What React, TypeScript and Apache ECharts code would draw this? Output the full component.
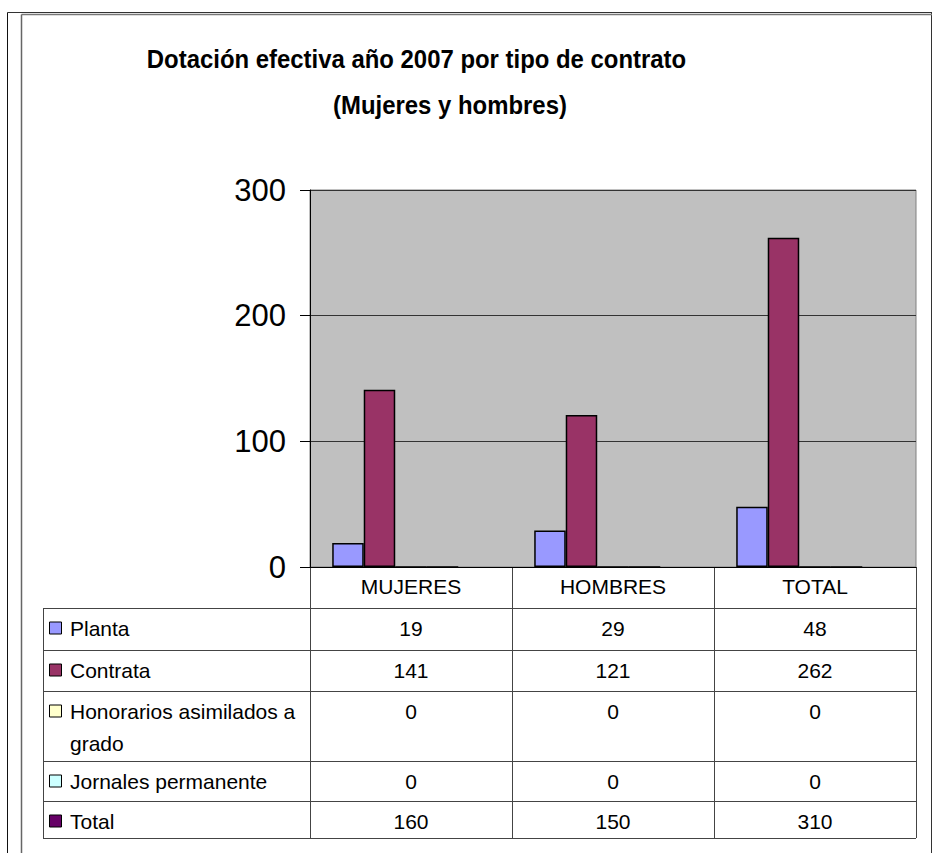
import React, { useEffect, useRef } from "react";
import * as echarts from "echarts";

const categories = ["MUJERES", "HOMBRES", "TOTAL"];
const seriesNames = ["Planta", "Contrata", "Honorarios asimilados a grado", "Jornales permanente", "Total"];
const planta = [19, 29, 48];
const contrata = [141, 121, 262];
const honorarios = [0, 0, 0];
const jornales = [0, 0, 0];
const total = [160, 150, 310];
const seriesValues = [planta, contrata, honorarios, jornales, total];
const seriesColors = ["#9999FF", "#993366", "#FFFFCC", "#CCFFFF", "#660066"];
const titleLines = ["Dotación efectiva año 2007 por tipo de contrato", "(Mujeres y hombres)"];

const W = 934;
const H = 853;
const GL = 310;
const GR = 916;
const GT = 190;
const GB = 567;
const TL = 43;
const rowLines = [608, 650, 691, 761, 801, 838];
const FONT = "'Liberation Sans', Arial, sans-serif";
const LH = 32;

export default function App() {
  const ref = useRef<HTMLDivElement>(null);
  useEffect(() => {
    if (!ref.current) return;
    const chart = echarts.init(ref.current, null, { renderer: "svg" });
    const colW = (GR - GL) / categories.length;
    const graphics: any[] = [];
    const frame = (x1: number, y1: number, x2: number, y2: number, c: string, w: number) =>
      graphics.push({ type: "line", shape: { x1, y1, x2, y2 }, style: { stroke: c, lineWidth: w }, silent: true });
    // outer frame
    frame(7.5, 12.5, 932, 12.5, "#333", 1);
    frame(7.5, 12.5, 7.5, H, "#111", 1);
    frame(931.5, 12.5, 931.5, H, "#333", 1);
    frame(21.5, 14.5, 932, 14.5, "#777", 1.5);
    frame(21.5, 14.5, 21.5, H, "#666", 1.5);
    // titles
    graphics.push({
      type: "text", x: 416.5, y: 59, scaleX: 0.92,
      style: { text: titleLines[0], font: "bold 26px " + FONT, fill: "#000", align: "center", verticalAlign: "middle" },
    });
    graphics.push({
      type: "text", x: 450, y: 105, scaleX: 0.92,
      style: { text: titleLines[1], font: "bold 26px " + FONT, fill: "#000", align: "center", verticalAlign: "middle" },
    });
    // table lines
    const lineC = "#444";
    for (let i = 0; i < rowLines.length; i++) {
      frame(TL, rowLines[i] + 0.5, GR, rowLines[i] + 0.5, lineC, 1);
    }
    frame(TL + 0.5, rowLines[0], TL + 0.5, rowLines[rowLines.length - 1], lineC, 1);
    for (let c = 0; c <= categories.length; c++) {
      const x = Math.round(GL + c * colW) + 0.5;
      frame(x, GB, x, rowLines[rowLines.length - 1], lineC, 1);
    }
    // rows
    seriesNames.forEach((name, r) => {
      const top = rowLines[r];
      const ty = top + 20;
      graphics.push({
        type: "rect", shape: { x: 49.5, y: ty - 6, width: 12, height: 12 },
        style: { fill: seriesColors[r], stroke: "#000", lineWidth: 1 }, silent: true,
      });
      graphics.push({
        type: "text", x: 70, y: ty - LH / 2,
        style: {
          text: name, font: "21px " + FONT, fill: "#000", verticalAlign: "top",
          width: 236, overflow: "break", lineHeight: LH,
        },
      });
      seriesValues[r].forEach((v, c) => {
        graphics.push({
          type: "text", x: GL + colW * (c + 0.5), y: ty,
          style: { text: String(v), font: "21px " + FONT, fill: "#000", align: "center", verticalAlign: "middle" },
        });
      });
    });

    chart.setOption({
      animation: false,
      grid: {
        left: GL, right: W - GR, top: GT, bottom: H - GB, show: true,
        backgroundColor: "#C0C0C0", borderColor: "#808080", borderWidth: 1,
      },
      xAxis: {
        type: "category", data: categories,
        axisLine: { show: true, lineStyle: { color: "#000", width: 1 } },
        axisTick: { show: false },
        axisLabel: { fontSize: 21, fontFamily: FONT, color: "#000", margin: 9 },
      },
      yAxis: {
        type: "value", min: 0, max: 300, interval: 100,
        axisLine: { show: true, lineStyle: { color: "#000", width: 1 } },
        axisTick: { show: true, length: 10, lineStyle: { color: "#000" } },
        axisLabel: { fontSize: 31, fontFamily: FONT, color: "#000", margin: 24 },
        splitLine: { show: true, lineStyle: { color: "#333", width: 1 } },
      },
      series: seriesNames.map((name, i) => ({
        name, type: "bar", data: seriesValues[i],
        barGap: "0%", barCategoryGap: "22%",
        itemStyle: i === 4
          ? { color: "rgba(0,0,0,0)", borderWidth: 0 }
          : { color: seriesColors[i], borderColor: "#000", borderWidth: 1.5 },
        silent: true,
      })),
      graphic: graphics,
    });
    return () => chart.dispose();
  }, []);
  return <div ref={ref} style={{ position: "absolute", left: 0, top: 0, width: W, height: H }} />;
}
